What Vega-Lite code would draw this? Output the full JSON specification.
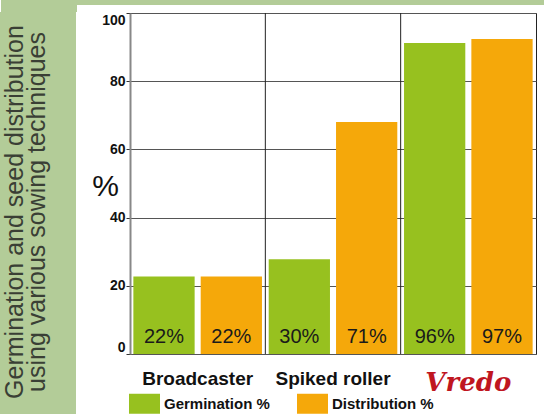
{
  "$schema": "https://vega.github.io/schema/vega-lite/v6.json",
  "padding": 0,
  "background": "white",
  "config": {
    "font": "Liberation Sans",
    "view": {"stroke": null}
  },
  "datasets": {
    "bars": [
      {"group": "Broadcaster", "series": "Germination %", "value": 22.7, "label": "22%"},
      {"group": "Broadcaster", "series": "Distribution %", "value": 22.7, "label": "22%"},
      {"group": "Spiked roller", "series": "Germination %", "value": 27.8, "label": "30%"},
      {"group": "Spiked roller", "series": "Distribution %", "value": 68, "label": "71%"},
      {"group": "Vredo", "series": "Germination %", "value": 91.2, "label": "96%"},
      {"group": "Vredo", "series": "Distribution %", "value": 92.4, "label": "97%"}
    ],
    "dividers": [{"group": "Spiked roller"}, {"group": "Vredo"}],
    "caption": [{"t": "caption"}],
    "blank": [{"t": ""}]
  },
  "vconcat": [
    {
      "data": {"name": "blank"},
      "width": 544,
      "height": 5,
      "view": {"fill": "#b3cc98", "stroke": null},
      "mark": {"type": "bar", "color": "#b3cc98"},
      "encoding": {}
    },
    {
      "data": {"name": "blank"},
      "width": 76,
      "height": 7,
      "view": {"fill": "#b3cc98", "stroke": null},
      "mark": {"type": "bar", "color": "#b3cc98"},
      "encoding": {}
    },
    {
      "hconcat": [
        {
          "data": {"name": "caption"},
          "width": 74,
          "height": 402,
          "view": {"fill": "#b3cc98", "stroke": "#b3cc98", "strokeWidth": 2},
          "mark": {
            "type": "text",
            "angle": 270,
            "fontSize": 25,
            "lineHeight": 21.5,
            "font": "Liberation Sans",
            "color": "#3a3f35",
            "align": "center",
            "baseline": "middle",
            "dx": 2,
            "dy": -23
          },
          "encoding": {
            "text": {"value": ["Germination and seed distribution", "using  various sowing techniques"]}
          }
        },
        {
          "width": 406,
          "height": 341,
          "view": {"stroke": "#222", "strokeWidth": 1},
          "layer": [
            {
              "data": {"name": "bars"},
              "mark": {"type": "bar"},
              "encoding": {
                "x": {
                  "field": "group",
                  "type": "nominal",
                  "title": null,
                  "scale": {"domain": ["Broadcaster", "Spiked roller", "Vredo"], "paddingInner": 0, "paddingOuter": 0},
                  "axis": {
                    "domain": false,
                    "ticks": false,
                    "grid": false,
                    "labelAngle": 0,
                    "labelPadding": 15,
                    "labelFontSize": {"condition": {"test": "datum.value === 'Vredo'", "value": 26}, "value": 19},
                    "labelFontWeight": "bold",
                    "labelFont": {"condition": {"test": "datum.value === 'Vredo'", "value": "DejaVu Serif"}, "value": "Liberation Sans"},
                    "labelFontStyle": {"condition": {"test": "datum.value === 'Vredo'", "value": "italic"}, "value": "normal"},
                    "labelColor": {"condition": {"test": "datum.value === 'Vredo'", "value": "#c0161f"}, "value": "#111111"}
                  }
                },
                "xOffset": {
                  "field": "series",
                  "type": "nominal",
                  "scale": {"domain": ["Germination %", "Distribution %"], "paddingInner": 0.09, "paddingOuter": 0.05}
                },
                "y": {
                  "field": "value",
                  "type": "quantitative",
                  "title": "%",
                  "scale": {"domain": [0, 100], "nice": false},
                  "axis": {
                    "values": [0, 20, 40, 60, 80, 100],
                    "domainColor": "#888888",
                    "domainWidth": 2,
                    "tickColor": "#333333",
                    "tickSize": 4,
                    "tickWidth": 1,
                    "labelFontSize": 14,
                    "labelFontWeight": "bold",
                    "labelColor": "#111111",
                    "labelPadding": 1,
                    "labelFlush": true,
                    "gridColor": "#555555",
                    "gridWidth": 1.2,
                    "gridOpacity": 1,
                    "titleAngle": 0,
                    "titleX": -25,
                    "titleY": 173,
                    "titleAlign": "center",
                    "titleBaseline": "middle",
                    "titleFontSize": 30,
                    "titleFontWeight": "normal",
                    "titleColor": "#111111"
                  }
                },
                "color": {
                  "field": "series",
                  "type": "nominal",
                  "scale": {"domain": ["Germination %", "Distribution %"], "range": ["#97c11f", "#f5a80a"]},
                  "legend": {
                    "orient": "none",
                    "legendX": 128,
                    "legendY": 388,
                    "direction": "horizontal",
                    "title": null,
                    "symbolType": "M-1,-0.645H1V0.645H-1Z",
                    "symbolSize": 961,
                    "symbolStrokeWidth": 0,
                    "symbolOpacity": 1,
                    "labelFontSize": 15,
                    "labelFontWeight": "bold",
                    "labelColor": "#111111",
                    "labelOffset": 4,
                    "columnPadding": 27
                  }
                }
              }
            },
            {
              "data": {"name": "bars"},
              "mark": {"type": "text", "fontSize": 20, "color": "#1a1a1a", "baseline": "alphabetic", "align": "center", "dy": -11},
              "encoding": {
                "x": {"field": "group", "type": "nominal"},
                "xOffset": {"field": "series", "type": "nominal"},
                "y": {"datum": 0, "type": "quantitative"},
                "text": {"field": "label"}
              }
            },
            {
              "data": {"name": "dividers"},
              "mark": {"type": "rule", "color": "#222222", "strokeWidth": 1},
              "encoding": {
                "x": {"field": "group", "type": "nominal", "bandPosition": 0}
              }
            }
          ]
        }
      ],
      "spacing": 15
    }
  ],
  "spacing": 0
}
